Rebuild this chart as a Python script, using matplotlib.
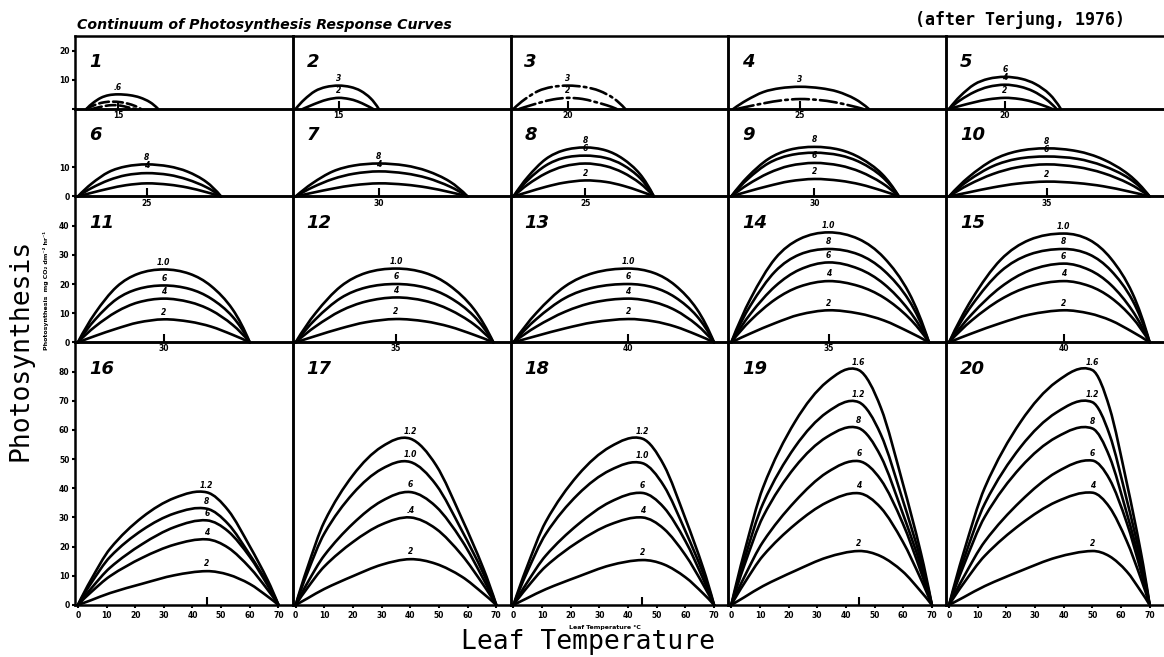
import matplotlib
matplotlib.use("Agg")
import matplotlib.pyplot as plt
from matplotlib.path import Path
from matplotlib.patches import PathPatch

# ---------------- data ----------------
row_ymax = [25, 30, 50, 90]
row_yticks = [[0, 10, 20], [0, 10], [0, 10, 20, 30, 40], [0, 10, 20, 30, 40, 50, 60, 70, 80]]
row_yticklabels = [["", "10", "20"], ["0", "10"], ["0", "10", "20", "30", "40"],
                   ["0", "10", "20", "30", "40", "50", "60", "70", "80"]]
temp_ticks = [0, 10, 20, 30, 40, 50, 60, 70]
temp_ticklabels = ["0", "10", "20", "30", "40", "50", "60", "70"]

peak_temp = [14, 15, 19, 24, 19.5, 24, 29, 25, 29, 34, 30, 35, 40, 34, 40, 45, 40, 45, 44.5, 50]
peak_label = ["15", "15", "20", "25", "20", "25", "30", "25", "30", "35",
              "30", "35", "40", "35", "40", "", "", "", "", ""]

# each curve: (label, linestyle, temperatures, photosynthesis)
c01 = [(".6", "-", [3, 5.2, 8, 10.7, 14, 18.2, 21.7, 25.2, 28], [0, 2, 3.8, 4.7, 5, 4.7, 3.9, 2.3, 0]),
       ("", "--", [3, 4.8, 7, 9.3, 12, 15, 17.5, 20, 22], [0, 0.9, 1.75, 2.3, 2.5, 2.3, 1.8, 1.0, 0]),
       ("", "--", [5, 6.4, 8.2, 9.9, 12, 14.4, 16.1, 18, 20], [0, .36, .78, 1.1, 1.3, 1.2, .9, .43, 0])]
c02 = [("3", "-", [0, 3, 6.75, 10.5, 15, 19.2, 22.7, 26.2, 29], [0, 3.2, 6.1, 7.5, 8, 7.5, 6.2, 3.6, 0]),
       ("2", "-", [2.5, 5, 8.1, 11.25, 15, 18.6, 21.6, 24.6, 27], [0, 1.06, 2.28, 3.27, 3.8, 3.42, 2.58, 1.25, 0])]
c03 = [("3", "-.", [0, 3.8, 8.55, 13.3, 19, 25, 30, 35, 39], [0, 3.2, 6.1, 7.5, 8, 7.5, 6.2, 3.6, 0]),
       ("2", "-.", [2, 5.4, 9.65, 13.9, 19, 24.1, 27.8, 32.6, 36], [0, 1.06, 2.28, 3.27, 3.8, 3.42, 2.58, 1.25, 0])]
c04 = [("3", "-", [0.7, 5.4, 11.2, 17, 24, 31.2, 37.2, 43.2, 48], [0, 3.0, 5.8, 7.1, 7.6, 7.1, 5.9, 3.4, 0]),
       ("", "-.", [2, 6.4, 11.9, 17.4, 24, 30.6, 36.1, 41.6, 46], [0, .95, 2.04, 2.92, 3.4, 3.06, 2.31, 1.12, 0])]
c05 = [("6", "-", [0, 3.9, 8.8, 13.65, 19.5, 25.35, 30.2, 35.1, 39], [0, 4.4, 8.4, 10.3, 11, 10.3, 8.5, 5, 0]),
       ("4", "-", [0, 3.9, 8.8, 13.65, 19.5, 24.9, 29.4, 33.9, 37.5], [0, 3, 5.8, 7.55, 8.3, 7.6, 6.05, 3.3, 0]),
       ("2", "-", [0, 3.9, 8.8, 13.65, 19.5, 24.5, 28.6, 32.7, 36], [0, 1.06, 2.28, 3.27, 3.8, 3.42, 2.58, 1.25, 0])]
x06 = [0, 4.8, 10.8, 16.8, 24, 31.8, 38.3, 44.8, 50]
c06 = [("8", "-", x06, [0, 4.4, 8.4, 10.3, 11, 10.3, 8.5, 5, 0]),
       ("4", "-", x06, [0, 2.9, 5.6, 7.3, 8, 7.4, 5.8, 3.2, 0]),
       ("", "-", x06, [0, 1.26, 2.7, 3.87, 4.5, 4.05, 3.06, 1.49, 0])]
x07 = [0, 5.8, 13, 20.3, 29, 38.3, 46, 53.8, 60]
c07 = [("8", "-", x07, [0, 4.5, 8.6, 10.6, 11.3, 10.6, 8.7, 5.1, 0]),
       ("4", "-", x07, [0, 3.1, 6, 7.8, 8.6, 7.9, 6.3, 3.4, 0]),
       ("", "-", x07, [0, 1.26, 2.7, 3.87, 4.5, 4.05, 3.06, 1.49, 0])]
x08 = [0, 5, 11.25, 17.5, 25, 32.2, 38.2, 44.2, 49]
c08 = [("8", "-", x08, [0, 6.7, 12.8, 15.8, 16.8, 15.8, 12.9, 7.6, 0]),
       ("6", "-", x08, [0, 5.6, 10.6, 13.2, 14, 13.2, 10.8, 6.3, 0]),
       ("", "-", x08, [0, 4.1, 7.9, 10.3, 11.3, 10.4, 8.2, 4.5, 0]),
       ("2", "-", x08, [0, 1.5, 3.3, 4.7, 5.5, 5, 3.7, 1.8, 0])]
x09 = [0, 5.8, 13, 20.3, 29, 37.9, 45.2, 52.6, 58.5]
c09 = [("8", "-", x09, [0, 6.8, 12.9, 16, 17, 16, 13.1, 7.7, 0]),
       ("", "-", x09, [0, 6, 11.4, 14.1, 15, 14.1, 11.6, 6.8, 0]),
       ("6", "-", x09, [0, 4.1, 8, 10.5, 11.5, 10.6, 8.4, 4.6, 0]),
       ("2", "-", x09, [0, 1.7, 3.6, 5.2, 6, 5.4, 4.1, 2, 0])]
x10 = [0, 6.8, 15.3, 23.8, 34, 44.8, 53.8, 62.8, 70]
c10 = [("8", "-", x10, [0, 6.6, 12.5, 15.5, 16.5, 15.5, 12.7, 7.4, 0]),
       ("6", "-", x10, [0, 5.5, 10.4, 12.9, 13.7, 12.9, 10.5, 6.2, 0]),
       ("", "-", x10, [0, 4, 7.7, 10, 11, 10.1, 8, 4.4, 0]),
       ("2", "-", x10, [0, 1.4, 3.1, 4.4, 5.1, 4.6, 3.5, 1.7, 0])]
x11 = [0, 6, 13.5, 21, 30, 39, 46.5, 54, 60]
c11 = [("1.0", "-", x11, [0, 10, 19, 23.5, 25, 23.5, 19.3, 11.3, 0]),
       ("6", "-", x11, [0, 7.8, 14.8, 18.3, 19.5, 18.3, 15, 8.8, 0]),
       ("4", "-", x11, [0, 5.4, 10.5, 13.7, 15, 13.8, 11, 6, 0]),
       ("2", "-", x11, [0, 2.2, 4.7, 6.8, 7.9, 7.1, 5.4, 2.6, 0])]
x12 = [0, 7, 15.75, 24.5, 35, 45.2, 53.7, 62.2, 69]
c12 = [("1.0", "-", x12, [0, 10.1, 19.2, 23.8, 25.3, 23.8, 19.5, 11.4, 0]),
       ("6", "-", x12, [0, 8, 15.2, 18.8, 20, 18.8, 15.4, 9, 0]),
       ("4", "-", x12, [0, 5.5, 10.8, 14, 15.4, 14.2, 11.2, 6.2, 0]),
       ("2", "-", x12, [0, 2.2, 4.8, 6.9, 8, 7.2, 5.4, 2.6, 0])]
x13 = [0, 8, 18, 28, 40, 49, 56.5, 64, 70]
c13 = [("1.0", "-", x13, [0, 10.1, 19.2, 23.8, 25.3, 23.8, 19.5, 11.4, 0]),
       ("6", "-", x13, [0, 8, 15.2, 18.8, 20, 18.8, 15.4, 9, 0]),
       ("4", "-", x13, [0, 5.4, 10.5, 13.7, 15, 13.8, 11, 6, 0]),
       ("2", "-", x13, [0, 2.2, 4.8, 6.9, 8, 7.2, 5.4, 2.6, 0])]
x14 = [0, 6.8, 15.3, 23.8, 34, 44.5, 53.3, 62, 69]
c14 = [("1.0", "-", x14, [0, 15.1, 28.7, 35.4, 37.7, 35.4, 29, 17, 0]),
       ("8", "-", x14, [0, 12.8, 24.3, 30.1, 32, 30.1, 24.6, 14.4, 0]),
       ("6", "-", x14, [0, 9.9, 19.2, 24.9, 27.4, 25.2, 20, 11, 0]),
       ("4", "-", x14, [0, 7.6, 14.7, 19.1, 21, 19.3, 15.3, 8.4, 0]),
       ("2", "-", x14, [0, 3.1, 6.6, 9.5, 11, 9.9, 7.5, 3.6, 0])]
x15 = [0, 8, 18, 28, 40, 49, 56.5, 64, 70]
c15 = [("1.0", "-", x15, [0, 14.9, 28.3, 35.1, 37.3, 35.1, 28.7, 16.8, 0]),
       ("8", "-", x15, [0, 12.8, 24.3, 30.1, 32, 30.1, 24.6, 14.4, 0]),
       ("6", "-", x15, [0, 9.7, 18.9, 24.6, 27, 24.8, 19.7, 10.8, 0]),
       ("4", "-", x15, [0, 7.6, 14.7, 19.1, 21, 19.3, 15.3, 8.4, 0]),
       ("2", "-", x15, [0, 3.1, 6.6, 9.5, 11, 9.9, 7.5, 3.6, 0])]
x16 = [0, 4.5, 11.25, 22.5, 33.75, 45, 52.5, 60, 66.25, 70]
c16 = [("1.2", "-", x16, [0, 8.5, 19.3, 30.1, 36.7, 38.6, 32.4, 20.1, 8.5, 0]),
       ("8", "-", x16, [0, 7.3, 16.5, 25.7, 31.4, 33, 27.7, 17.2, 7.3, 0]),
       ("6", "-", x16, [0, 5.5, 12.8, 20.9, 26.7, 29, 25.2, 16.5, 6.7, 0]),
       ("4", "-", x16, [0, 4.3, 9.9, 16.2, 20.7, 22.5, 19.6, 12.8, 5.2, 0]),
       ("2", "-", x16, [0, 1.6, 4.1, 7.3, 10.2, 11.6, 10.4, 7.2, 2.9, 0])]
x17 = [0, 4, 10, 20, 30, 40, 49, 58, 65.5, 70]
c17 = [("1.2", "-", x17, [0, 12.5, 28.5, 44.5, 54.2, 57, 47.9, 29.6, 12.5, 0]),
       ("1.0", "-", x17, [0, 10.8, 24.5, 38.2, 46.6, 49, 41.2, 25.5, 10.8, 0]),
       ("6", "-", x17, [0, 7.4, 17, 27.9, 35.6, 38.7, 33.7, 22.1, 8.9, 0]),
       (".4", "-", x17, [0, 5.7, 13.2, 21.6, 27.6, 30, 26.1, 17.1, 6.9, 0]),
       ("2", "-", x17, [0, 2.2, 5.5, 9.9, 13.8, 15.7, 14.1, 9.7, 3.9, 0])]
x18 = [0, 4.5, 11.25, 22.5, 33.75, 45, 52.5, 60, 66.25, 70]
c18 = [("1.2", "-", x18, [0, 12.5, 28.5, 44.5, 54.2, 57, 47.9, 29.6, 12.5, 0]),
       ("1.0", "-", x18, [0, 10.7, 24.3, 37.9, 46.2, 48.6, 40.8, 25.3, 10.7, 0]),
       ("6", "-", x18, [0, 7.3, 16.9, 27.6, 35.3, 38.4, 33.4, 21.9, 8.8, 0]),
       ("4", "-", x18, [0, 5.7, 13.2, 21.6, 27.6, 30, 26.1, 17.1, 6.9, 0]),
       ("2", "-", x18, [0, 2.2, 5.4, 9.7, 13.6, 15.4, 13.9, 9.5, 3.9, 0])]
x19 = [0, 4.45, 11.1, 22.25, 33.4, 44.5, 52.2, 59.8, 66.2, 70]
c19 = [("1.6", "-", x19, [0, 17.7, 40.3, 62.8, 76.5, 80.5, 67.6, 41.9, 17.7, 0]),
       ("1.2", "-", x19, [0, 15.3, 34.8, 54.2, 66, 69.5, 58.4, 36.1, 15.3, 0]),
       ("8", "-", x19, [0, 13.3, 30.3, 47.3, 57.6, 60.6, 50.9, 31.5, 13.3, 0]),
       ("6", "-", x19, [0, 9.4, 21.7, 35.5, 45.4, 49.3, 42.9, 28.1, 11.3, 0]),
       ("4", "-", x19, [0, 7.3, 16.9, 27.6, 35.2, 38.3, 33.3, 21.8, 8.8, 0]),
       ("2", "-", x19, [0, 2.6, 6.5, 11.7, 16.3, 18.5, 16.7, 11.5, 4.6, 0])]
x20 = [0, 5, 12.5, 25, 37.5, 50, 56, 62, 67, 70]
c20 = [("1.6", "-", x20, [0, 17.7, 40.3, 62.8, 76.5, 80.5, 67.6, 41.9, 17.7, 0]),
       ("1.2", "-", x20, [0, 15.3, 34.8, 54.2, 66, 69.5, 58.4, 36.1, 15.3, 0]),
       ("8", "-", x20, [0, 13.3, 30.3, 47.2, 57.5, 60.5, 50.8, 31.5, 13.3, 0]),
       ("6", "-", x20, [0, 9.4, 21.8, 35.6, 45.5, 49.5, 43.1, 28.2, 11.4, 0]),
       ("4", "-", x20, [0, 7.3, 16.9, 27.7, 35.4, 38.5, 33.5, 21.9, 8.9, 0]),
       ("2", "-", x20, [0, 2.6, 6.5, 11.7, 16.3, 18.5, 16.7, 11.5, 4.6, 0])]

panels = [c01, c02, c03, c04, c05, c06, c07, c08, c09, c10,
          c11, c12, c13, c14, c15, c16, c17, c18, c19, c20]

# ---------------- drawing ----------------
W, H = 1164, 657
fig = plt.figure(figsize=(W / 100, H / 100), dpi=100)
fig.patch.set_facecolor("white")

gs = fig.add_gridspec(4, 5, left=75 / W, right=1.0, top=1 - 36 / H, bottom=1 - 605 / H,
                      hspace=0, wspace=0, height_ratios=row_ymax)


def smooth_path(xs, ys):
    """Cubic Hermite path through the read points (y as a function of x)."""
    n = len(xs)
    m = [0.0] * n
    for i in range(1, n - 1):
        m[i] = (ys[i + 1] - ys[i - 1]) / (xs[i + 1] - xs[i - 1])
    m[0] = 2 * (ys[1] - ys[0]) / (xs[1] - xs[0]) - m[1]
    m[-1] = 2 * (ys[-1] - ys[-2]) / (xs[-1] - xs[-2]) - m[-2]
    verts = [(xs[0], ys[0])]
    codes = [Path.MOVETO]
    for i in range(n - 1):
        h = xs[i + 1] - xs[i]
        verts += [(xs[i] + h / 3, ys[i] + m[i] * h / 3),
                  (xs[i + 1] - h / 3, ys[i + 1] - m[i + 1] * h / 3),
                  (xs[i + 1], ys[i + 1])]
        codes += [Path.CURVE4] * 3
    return Path(verts, codes)


tickfont = dict(fontsize=5.5, fontweight="bold")

for k, curves in enumerate(panels):
    r, c = divmod(k, 5)
    ax = fig.add_subplot(gs[r, c])
    ax.patch.set_visible(False)
    ax.set_xlim(-1, 75)
    ax.set_ylim(0, row_ymax[r])
    for s in ax.spines.values():
        s.set_linewidth(1.8)
    if c == 4:
        ax.spines["right"].set_visible(False)

    for lab, ls, xs, ys in curves:
        patch = PathPatch(smooth_path(xs, ys), fill=False, lw=1.9, ec="black",
                          linestyle=ls, capstyle="round", joinstyle="round", clip_on=False)
        ax.add_patch(patch)
        if lab:
            i = ys.index(max(ys))
            ax.annotate(lab, xy=(xs[i], ys[i]), xytext=(0, 2.0), textcoords="offset points",
                        ha="center", va="bottom", fontsize=5.5, fontweight="bold",
                        fontstyle="italic")

    if r < 3:
        ax.set_xticks([peak_temp[k]])
        ax.set_xticklabels([peak_label[k]], **tickfont)
        ax.tick_params(axis="x", direction="in", length=6, width=1.5, pad=1.5)
    else:
        ax.set_xticks(temp_ticks)
        ax.set_xticklabels(temp_ticklabels, **tickfont)
        ax.set_xticks([peak_temp[k]], minor=True)
        ax.tick_params(axis="x", which="major", direction="out", length=2.5, width=1.5, pad=1.5)
        ax.tick_params(axis="x", which="minor", direction="in", length=6, width=1.5)

    if c == 0:
        ax.set_yticks(row_yticks[r])
        ax.set_yticklabels(row_yticklabels[r], **tickfont)
        ax.tick_params(axis="y", direction="out", length=2.5, width=1.5, pad=1.5)
    else:
        ax.set_yticks([])

    ax.annotate(str(k + 1), xy=(0, 1), xycoords="axes fraction", xytext=(10, -19),
                textcoords="offset points", ha="left", va="center", fontsize=13,
                fontweight="bold", fontstyle="italic")

# texts
fig.text(77 / W, 1 - 25 / H, "Continuum of Photosynthesis Response Curves", fontsize=10.2,
         fontweight="bold", fontstyle="italic", ha="left", va="center")
fig.text(1020 / W, 1 - 20 / H, "(after Terjung, 1976)", family="DejaVu Sans Mono",
         fontweight="bold", fontsize=12, ha="center", va="center")
fig.text(21 / W, 1 - 350 / H, "Photosynthesis", family="DejaVu Sans Mono", fontsize=19,
         rotation=90, ha="center", va="center")
fig.text(588 / W, 1 - 642 / H, "Leaf Temperature", family="DejaVu Sans Mono", fontsize=19,
         ha="center", va="center")
fig.text(605 / W, 1 - 627 / H, "Leaf Temperature °C", fontsize=4.5, fontweight="bold",
         ha="center", va="center")
fig.text(46 / W, 1 - 290 / H, "Photosynthesis  mg CO₂ dm⁻² hr⁻¹", fontsize=4.5,
         fontweight="bold", rotation=90, ha="center", va="center")

fig.savefig("out.png", dpi=100, facecolor="white")
